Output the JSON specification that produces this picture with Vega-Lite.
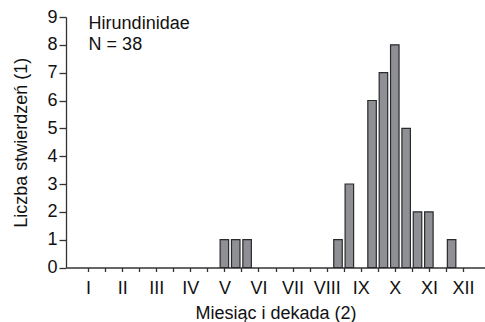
{
  "$schema": "https://vega.github.io/schema/vega-lite/v6.json",
  "autosize": "none",
  "width": 419,
  "height": 250.5,
  "padding": {"left": 66, "top": 17, "right": 0, "bottom": 54.5},
  "background": "white",
  "config": {
    "view": {"stroke": null},
    "font": "Liberation Sans",
    "axis": {"grid": false, "labelOverlap": false, "domainColor": "#333", "tickColor": "#333", "labelColor": "#111", "titleColor": "#111", "labelFont": "Liberation Sans", "titleFont": "Liberation Sans", "titleFontWeight": "normal", "labelFontSize": 18, "titleFontSize": 18, "domainWidth": 1.3, "tickWidth": 1.3}
  },
  "data": {"values": [
    {"decade": 13, "count": 1},
    {"decade": 14, "count": 1},
    {"decade": 15, "count": 1},
    {"decade": 23, "count": 1},
    {"decade": 24, "count": 3},
    {"decade": 26, "count": 6},
    {"decade": 27, "count": 7},
    {"decade": 28, "count": 8},
    {"decade": 29, "count": 5},
    {"decade": 30, "count": 2},
    {"decade": 31, "count": 2},
    {"decade": 33, "count": 1}
  ]},
  "layer": [
    {
      "mark": {"type": "bar", "width": 8.5, "fill": "#8f9095", "stroke": "#2a2a2a", "strokeWidth": 1.2},
      "encoding": {
        "x": {
          "field": "decade", "type": "quantitative",
          "scale": {"domain": [-0.5, 35.5], "nice": false, "zero": false},
          "axis": {
            "title": "Miesiąc i dekada (2)",
            "values": [1, 2.5, 4, 5.5, 7, 8.5, 10, 11.5, 13, 14.5, 16, 17.5, 19, 20.5, 22, 23.5, 25, 26.5, 28, 29.5, 31, 32.5, 34],
            "tickCount": 100,
            "labelExpr": "(datum.value - 1) % 3 == 0 ? ['I','II','III','IV','V','VI','VII','VIII','IX','X','XI','XII'][(datum.value - 1) / 3] : ''",
            "tickSize": 4,
            "labelPadding": 8,
            "titlePadding": 7,
            "labelFlush": false,
            "labelOverlap": false
          }
        },
        "y": {
          "field": "count", "type": "quantitative",
          "scale": {"domain": [0, 9], "nice": false},
          "axis": {
            "title": "Liczba stwierdzeń (1)",
            "values": [0, 1, 2, 3, 4, 5, 6, 7, 8, 9],
            "tickCount": 100,
            "format": "d",
            "tickSize": 7,
            "labelPadding": 2,
            "titlePadding": 16,
            "labelFlush": false,
            "labelOverlap": false
          }
        }
      }
    },
    {
      "data": {"values": [{}]},
      "mark": {"type": "text", "text": ["Hirundinidae", "N = 38"], "align": "left", "baseline": "top", "fontSize": 18, "lineHeight": 21, "color": "#111", "dy": -2},
      "encoding": {
        "x": {"datum": 1.05, "type": "quantitative"},
        "y": {"datum": 9, "type": "quantitative"}
      }
    }
  ]
}
